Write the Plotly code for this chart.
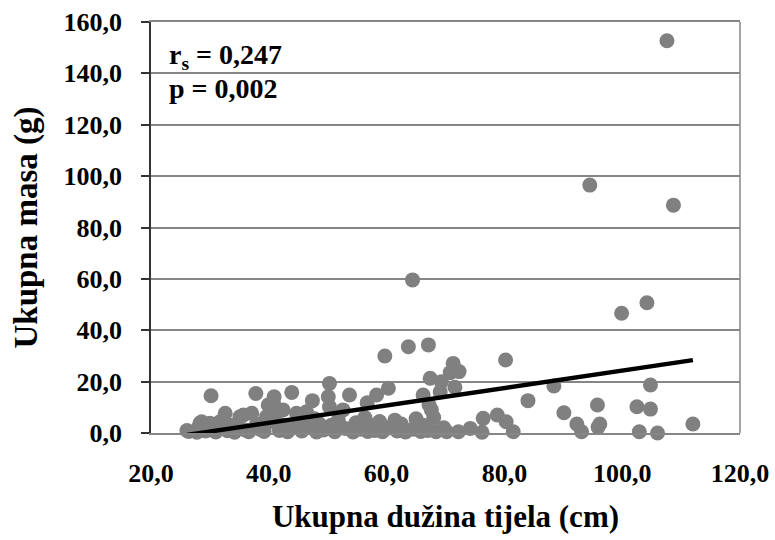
import plotly.graph_objects as go

# Data
length_cm = [
    26.1, 26.4, 27.8, 28.0, 28.3, 28.6, 29.3, 30.0, 30.2, 30.5,
    31.0, 31.7, 32.0, 32.6, 33.0, 33.5, 34.2, 34.8, 35.1, 35.7,
    36.0, 36.6, 37.1, 37.8, 37.9, 38.5, 39.2, 39.6, 39.9, 40.2,
    40.8, 40.9, 41.3, 41.8, 42.4, 42.5, 43.2, 43.9, 44.3, 44.7,
    45.0, 45.6, 46.4, 46.8, 47.4, 47.8, 48.1, 48.6, 49.3, 50.1,
    50.3, 50.3, 50.6, 51.2, 51.8, 52.6, 53.0, 53.7, 54.3, 54.8,
    55.6, 56.3, 56.7, 56.8, 57.5, 58.0, 58.3, 58.8, 59.3, 59.7,
    60.3, 60.6, 61.4, 61.8, 62.5, 63.2, 63.7, 64.4, 64.5, 65.0,
    66.2, 65.8, 66.2, 67.0, 67.1, 67.4, 67.2, 67.6, 68.0, 68.4,
    69.1, 69.3, 69.7, 70.2, 70.8, 71.3, 71.6, 72.3, 72.2, 74.2,
    76.2, 76.4, 78.8, 80.2, 80.3, 81.5, 84.0, 88.4, 90.1, 92.3,
    93.1, 94.5, 95.8, 95.9, 96.2, 99.9, 102.5, 102.9, 104.2, 104.8,
    104.8, 106.0, 107.6, 108.7, 112.0,
]
mass_g = [
    1.0, 0.6, 0.3, 1.8, 3.8, 4.4, 0.8, 3.8, 14.5, 1.5,
    0.4, 4.4, 2.2, 7.7, 0.9, 3.0, 0.3, 2.0, 6.3, 7.0,
    1.2, 0.5, 7.7, 15.4, 3.5, 1.5, 0.6, 6.3, 10.9, 4.5,
    11.5, 14.1, 7.7, 1.0, 9.0, 3.0, 0.5, 15.8, 2.2, 7.7,
    4.8, 0.8, 8.3, 2.5, 12.6, 5.5, 0.4, 3.5, 1.2, 14.1,
    19.3, 10.2, 3.0, 0.5, 5.0, 9.0, 1.8, 14.8, 0.4, 4.0,
    1.5, 6.0, 11.8, 0.6, 3.0, 1.0, 14.8, 4.5, 0.5, 30.0,
    17.4, 2.0, 5.0, 0.8, 3.5, 0.4, 33.6, 59.6, 1.5, 5.5,
    14.8, 0.6, 3.0, 1.0, 34.3, 21.3, 11.0, 9.0, 6.0, 0.5,
    16.0, 20.0, 2.0, 0.5, 23.5, 27.1, 17.8, 23.9, 0.5, 1.8,
    0.3, 5.7, 7.0, 28.4, 4.4, 0.5, 12.6, 18.3, 7.9, 3.5,
    0.5, 96.5, 10.9, 2.3, 3.5, 46.6, 10.2, 0.5, 50.7, 9.3,
    18.7, 0.0, 152.7, 88.7, 3.5,
]
assert len(length_cm) == len(mass_g)

# Linear trend line coefficients
trend_slope = 0.339
trend_intercept = -9.6

x_ticks = [20, 40, 60, 80, 100, 120]
y_ticks = [0, 20, 40, 60, 80, 100, 120, 140, 160]

stats_text = ["r<sub>s</sub> = 0,247", "p = 0,002"]

FONT = "'Liberation Serif', 'Times New Roman', 'DejaVu Serif', serif"

trend_x = [min(length_cm), max(length_cm)]
trend_y = [trend_slope * v + trend_intercept for v in trend_x]

fig = go.Figure()
fig.add_trace(go.Scatter(
    x=length_cm, y=mass_g, mode="markers",
    marker=dict(size=15, color="#808080", line=dict(width=0)),
    cliponaxis=False, showlegend=False,
))
fig.add_trace(go.Scatter(
    x=trend_x, y=trend_y, mode="lines",
    line=dict(color="black", width=4.5),
    showlegend=False,
))

fig.update_layout(
    width=775, height=540,
    margin=dict(l=151, r=35, t=22, b=107),
    paper_bgcolor="white", plot_bgcolor="white",
    separators=",.",
    font=dict(family=FONT, color="black"),
    xaxis=dict(
        range=[20, 120], tickvals=x_ticks, tickformat=".1f",
        showgrid=False, zeroline=False, automargin=False,
        showline=True, linecolor="#868686", linewidth=1.5, mirror=True,
        ticks="", ticklabelstandoff=16, ticklabeloverflow="allow",
        tickfont=dict(family=FONT, size=26, color="black", weight="bold"),
        title=dict(text="<b>Ukupna dužina tijela (cm)</b>",
                   font=dict(family=FONT, size=31, color="black"), standoff=18),
    ),
    yaxis=dict(
        range=[0, 160], tickvals=y_ticks, tickformat=".1f",
        showgrid=True, gridcolor="#868686", gridwidth=1.5, zeroline=False,
        automargin=False,
        showline=True, linecolor="#333333", linewidth=1.5,
        ticks="outside", ticklen=8, tickcolor="#333333", tickwidth=1.5,
        ticklabelstandoff=14, ticklabeloverflow="allow",
        tickfont=dict(family=FONT, size=26, color="black", weight="bold"),
        title=dict(text="<b>Ukupna masa (g)</b>",
                   font=dict(family=FONT, size=33, color="black"), standoff=16),
    ),
    shapes=[dict(type="line", xref="paper", yref="paper", x0=1, x1=1, y0=0, y1=1,
                 line=dict(color="#868686", width=1.5))],
    annotations=[
        dict(text="<b>" + stats_text[0] + "</b>", xref="paper", yref="paper",
             x=0.027, y=0.915, xanchor="left", yanchor="middle", showarrow=False,
             font=dict(family=FONT, size=28, color="black")),
        dict(text="<b>" + stats_text[1] + "</b>", xref="paper", yref="paper",
             x=0.027, y=0.838, xanchor="left", yanchor="middle", showarrow=False,
             font=dict(family=FONT, size=28, color="black")),
    ],
)

# remove the default page margin so the figure fills the window exactly
fig.write_html("out.html", config={"displayModeBar": False},
               post_script="document.body.style.margin='0';")
